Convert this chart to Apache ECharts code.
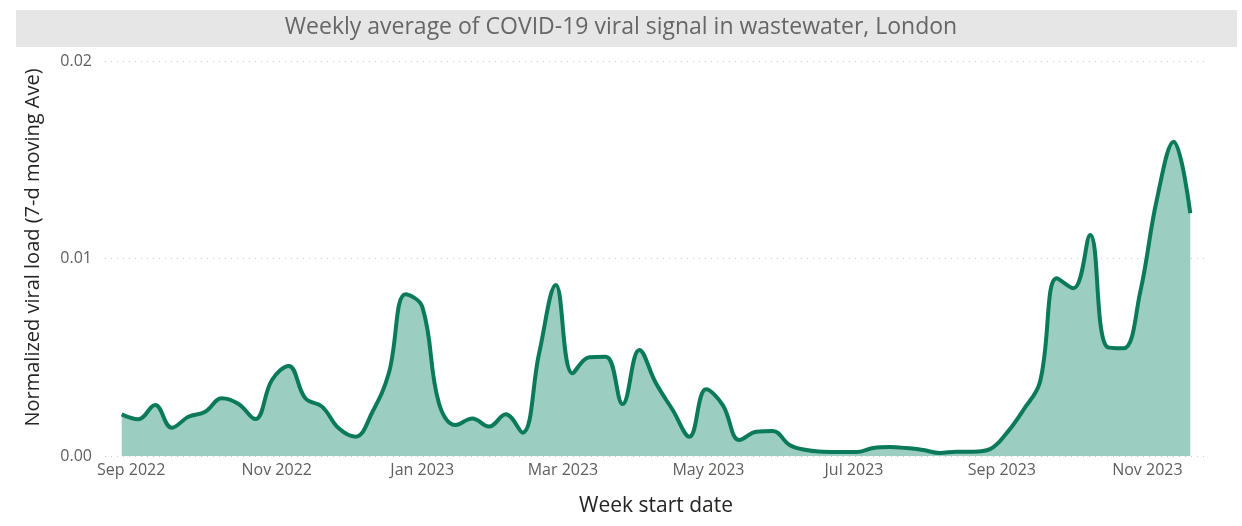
<!DOCTYPE html>
<html>
<head>
<meta charset="utf-8">
<title>Wastewater viral signal, London</title>
<script src="https://cdn.jsdelivr.net/npm/echarts@6/dist/echarts.min.js"></script>
<style>
    html, body { margin: 0; padding: 0; background: #fff; }
    #chart { width: 1242px; height: 526px; }
</style>
</head>
<body>
<div id="chart"></div>
<script>
// --- data ---
const weekDates = [
    '2022-08-28', '2022-09-04', '2022-09-11', '2022-09-18', '2022-09-25',
    '2022-10-02', '2022-10-09', '2022-10-16', '2022-10-23', '2022-10-30',
    '2022-11-06', '2022-11-13', '2022-11-20', '2022-11-27', '2022-12-04',
    '2022-12-11', '2022-12-18', '2022-12-25', '2023-01-01', '2023-01-08',
    '2023-01-15', '2023-01-22', '2023-01-29', '2023-02-05', '2023-02-12',
    '2023-02-19', '2023-02-26', '2023-03-05', '2023-03-12', '2023-03-19',
    '2023-03-26', '2023-04-02', '2023-04-09', '2023-04-16', '2023-04-23',
    '2023-04-30', '2023-05-07', '2023-05-14', '2023-05-21', '2023-05-28',
    '2023-06-04', '2023-06-11', '2023-06-18', '2023-06-25', '2023-07-02',
    '2023-07-09', '2023-07-16', '2023-07-23', '2023-07-30', '2023-08-06',
    '2023-08-13', '2023-08-20', '2023-08-27', '2023-09-03', '2023-09-10',
    '2023-09-17', '2023-09-24', '2023-10-01', '2023-10-08', '2023-10-15',
    '2023-10-22', '2023-10-29', '2023-11-05', '2023-11-12', '2023-11-19'
];

const viralLoad = [
    0.00211, 0.00186, 0.00258, 0.00143, 0.00199,
    0.00224, 0.00292, 0.00263, 0.00187, 0.00385,
    0.00456, 0.00292, 0.00250, 0.00140, 0.00098,
    0.00220, 0.00420, 0.00819, 0.00756, 0.00267,
    0.00157, 0.00190, 0.00149, 0.00211, 0.00118,
    0.00520, 0.00866, 0.00419, 0.00500, 0.00503,
    0.00263, 0.00537, 0.00368, 0.00233, 0.00098,
    0.00338, 0.00258, 0.00081, 0.00123, 0.00127,
    0.00056, 0.00030, 0.00022, 0.00020, 0.00020,
    0.00040, 0.00045, 0.00040, 0.00030, 0.00015,
    0.00022, 0.00022, 0.00035, 0.00116, 0.00233,
    0.00376, 0.00900, 0.00849, 0.01119, 0.00553,
    0.00545, 0.00830, 0.01300, 0.01591, 0.01229
];

const yTicks = [0, 0.01, 0.02];
const monthNames = ['Jan', 'Feb', 'Mar', 'Apr', 'May', 'Jun', 'Jul', 'Aug', 'Sep', 'Oct', 'Nov', 'Dec'];

const chartTitle = 'Weekly average of COVID-19 viral signal in wastewater, London';
const xTitle = 'Week start date';
const yTitle = 'Normalized viral load (7-d moving Ave)';

// --- chart ---
const FONT = '"Open Sans", "Noto Sans", sans-serif';
const LINE = '#0b7a5a';
const FILL = '#9bcdc0';
const DAY = 24 * 3600 * 1000;

const chart = echarts.init(document.getElementById('chart'), null, { renderer: 'canvas' });

const seriesData = weekDates.map((d, i) => [d, viralLoad[i]]);

chart.setOption({
    backgroundColor: '#ffffff',
    animation: false,
    graphic: [{
        type: 'rect',
        left: 16, top: 10,
        shape: { width: 1221, height: 37 },
        style: { fill: '#e6e6e6' },
        z: 0
    }],
    title: {
        text: chartTitle,
        left: 'center',
        top: 11,
        textStyle: { fontFamily: FONT, fontSize: 23, fontWeight: 'normal', color: '#666666' }
    },
    grid: { left: 105, right: 35, top: 61, bottom: 70, containLabel: false },
    xAxis: {
        type: 'time',
        min: '2022-08-21',
        max: '2023-11-26',
        minInterval: 75 * DAY,
        maxInterval: 75 * DAY,
        name: xTitle,
        nameLocation: 'middle',
        nameGap: 40,
        nameTextStyle: { fontFamily: FONT, fontSize: 21, color: '#252423' },
        axisLine: { show: false },
        axisTick: { show: false },
        splitLine: { show: false },
        axisLabel: {
            fontFamily: FONT, fontSize: 16, color: '#605e5c', margin: 6,
            hideOverlap: false,
            formatter: (val) => {
                const d = new Date(val);
                return monthNames[d.getMonth()] + ' ' + d.getFullYear();
            }
        }
    },
    yAxis: {
        type: 'value',
        min: yTicks[0],
        max: yTicks[yTicks.length - 1],
        interval: yTicks[1] - yTicks[0],
        name: yTitle,
        nameLocation: 'middle',
        nameGap: 62,
        nameTextStyle: { fontFamily: FONT, fontSize: 20, color: '#252423', padding: [0, 0, 0, 22] },
        axisLine: { show: false },
        axisTick: { show: false },
        axisLabel: {
            fontFamily: FONT, fontSize: 16, color: '#605e5c', margin: 13,
            formatter: (v) => v.toFixed(2)
        },
        splitLine: { show: true, lineStyle: { color: '#c8c8c8', type: [1, 5], width: 1 } }
    },
    series: [{
        type: 'line',
        data: seriesData,
        smooth: 0.4,
        showSymbol: false,
        lineStyle: { color: LINE, width: 4 },
        areaStyle: { color: FILL, opacity: 1 },
        itemStyle: { color: LINE }
    }]
});
</script>
</body>
</html>
